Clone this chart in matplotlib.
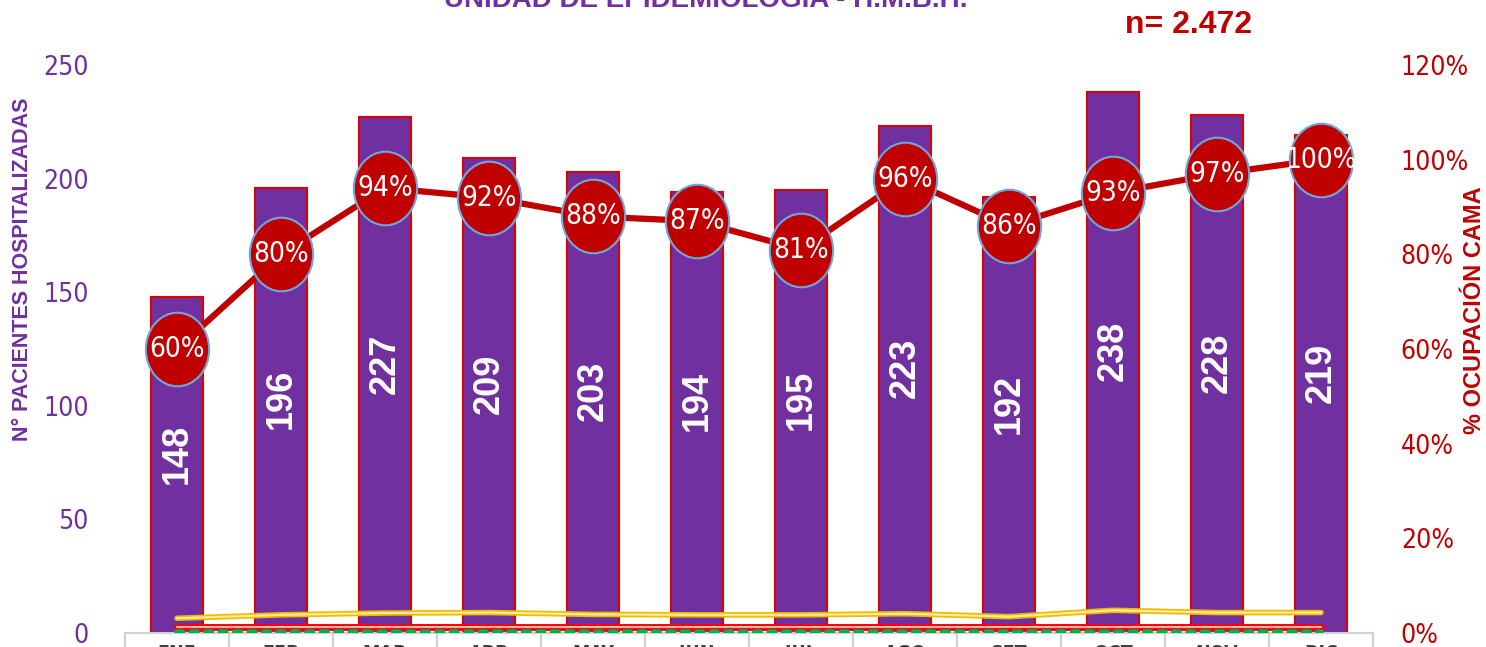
import matplotlib.pyplot as plt
from matplotlib.path import Path
from matplotlib.transforms import Affine2D

meses = ["ENE", "FEB", "MAR", "ABR", "MAY", "JUN", "JUL", "AGO", "SET", "OCT", "NOV", "DIC"]
pacientes = [148, 196, 227, 209, 203, 194, 195, 223, 192, 238, 228, 219]
ocupacion = [60, 80, 94, 92, 88, 87, 81, 96, 86, 93, 97, 100]
serie_amarilla = [6.5, 8.0, 8.8, 9.0, 8.2, 8.0, 8.0, 8.5, 7.2, 10.0, 9.0, 9.0]
serie_roja = [2.5, 2.5, 2.5, 2.5, 2.5, 2.5, 2.5, 2.5, 2.5, 2.5, 2.5, 2.5]
serie_verde = [0.5, 0.5, 0.5, 0.5, 0.5, 0.5, 0.5, 0.5, 0.5, 0.5, 0.5, 0.5]

morado = '#7030A0'
rojo = '#C00000'
plt.rcParams['font.family'] = ['DejaVu Sans']
plt.rcParams['font.stretch'] = 'condensed'
negrita = ['Liberation Sans', 'DejaVu Sans']

fig = plt.figure(figsize=(14.86, 6.47), dpi=100)
ax = fig.add_axes([0.0841, 0.0216, 0.8399, 0.878])
x = list(range(len(meses)))

ax.bar(x, pacientes, width=0.5, color=morado, edgecolor='#E00000', linewidth=1.5, zorder=2)
for xi, v in zip(x, pacientes):
    ax.text(xi, v / 2 + 5, str(v), rotation=90, ha='center', va='center', color='white',
            fontsize=26, fontweight='bold', family=negrita, fontstretch='normal', zorder=3)

# series pequeñas cerca de la base
ax.plot(x, serie_amarilla, color='#F5B800', linewidth=4, solid_capstyle='round', zorder=4)
ax.plot(x, serie_amarilla, color='#FFF0A0', linewidth=1.5, solid_capstyle='round', zorder=4)
ax.plot(x, serie_roja, color='#FF0000', linewidth=5, solid_capstyle='round', zorder=4)
ax.plot(x, serie_roja, color='#FFB0B0', linewidth=1.5, solid_capstyle='round', zorder=4)
ax.plot(x, serie_verde, color='#00B050', linewidth=4, linestyle=(0, (1, 1.6)),
        dash_capstyle='round', zorder=5)

ax.set_xlim(-0.5, 11.5)
ax.set_ylim(0, 250)
ax.set_yticks([0, 50, 100, 150, 200, 250])
ax.tick_params(axis='y', colors=morado, labelsize=19, length=0, pad=26)
ax.set_xticks([i + 0.5 for i in range(-1, 12)], minor=False)
ax.set_xticklabels([])
ax.set_xticks(x, minor=True)
ax.set_xticklabels(meses, minor=True, fontsize=14, color='#404040', fontweight='bold')
ax.tick_params(axis='x', which='major', length=25, color='#D0D0D0', width=1.5)
ax.tick_params(axis='x', which='minor', length=0, pad=8)
for s in ['top', 'right', 'left']:
    ax.spines[s].set_visible(False)
ax.spines['bottom'].set_color('#D0D0D0')
ax.spines['bottom'].set_linewidth(1.5)

elipse = Path.unit_circle().transformed(Affine2D().scale(0.86, 1.0))
ax2 = ax.twinx()
ax2.plot(x, ocupacion, color=rojo, linewidth=4.5, zorder=5)
ax2.plot(x, ocupacion, linestyle='none', marker=elipse, markersize=53, markerfacecolor=rojo,
         markeredgecolor='#6FA8DC', markeredgewidth=1.5, zorder=6)
for xi, p in zip(x, ocupacion):
    ax2.text(xi, p, f'{p}%', ha='center', va='center', color='white', fontsize=20, zorder=7)
ax2.set_ylim(0, 120)
ax2.set_yticks([0, 20, 40, 60, 80, 100, 120])
ax2.set_yticklabels([f'{t}%' for t in [0, 20, 40, 60, 80, 100, 120]])
ax2.tick_params(axis='y', colors=rojo, labelsize=19, length=0, pad=20)
for s in ['top', 'right', 'left', 'bottom']:
    ax2.spines[s].set_visible(False)

fig.text(0.015, 0.584, 'N° PACIENTES HOSPITALIZADAS', rotation=90, ha='center', va='center',
         color=morado, fontsize=15.5, fontweight='bold', family=negrita, fontstretch='normal')
fig.text(0.9925, 0.52, '% OCUPACIÓN CAMA', rotation=90, ha='center', va='center',
         color=rojo, fontsize=17, fontweight='bold', family=negrita, fontstretch='normal')
fig.text(0.475, 1.0, 'UNIDAD DE EPIDEMIOLOGIA - H.M.B.H.', ha='center', va='center',
         color=morado, fontsize=20, fontweight='bold', family=negrita, fontstretch='normal')
fig.text(0.80, 0.962, 'n= 2.472', ha='center', va='center', color=rojo, fontsize=23,
         fontweight='bold', family=negrita, fontstretch='normal')

fig.savefig('out.png', dpi=100)
